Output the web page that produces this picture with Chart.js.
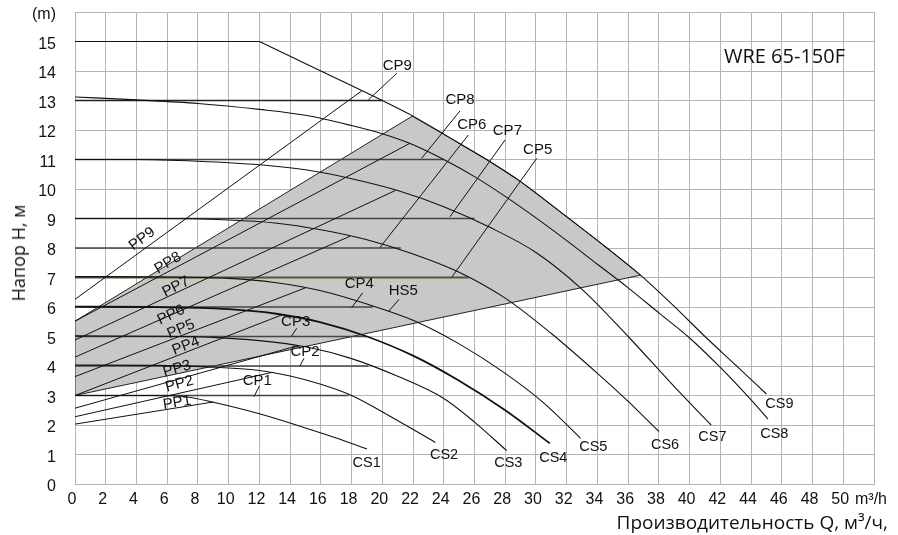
<!DOCTYPE html>
<html>
<head>
<meta charset="utf-8">
<script src="https://cdn.jsdelivr.net/npm/chart.js@4.4.1/dist/chart.umd.min.js"></script>
<style>
  html, body { margin:0; padding:0; background:#fff; }
  #wrap { position:relative; width:898px; height:535px; overflow:hidden; }
  #c { position:absolute; left:0; top:0; }
  .txt { position:absolute; white-space:nowrap; color:#111; font-family:"Open Sans", sans-serif; }
  #ytitle { left:18px; top:253px; font-size:18px; line-height:18px; transform:translate(-50%,-50%) rotate(-90deg); }
  #xtitle { right:10px; top:513px; font-size:19px; line-height:19px; }
  #model { left:724px; top:46px; font-size:20px; line-height:20px; }
</style>
</head>
<body>
<div id="wrap">
  <canvas id="c" width="898" height="535"></canvas>
  <div class="txt" id="ytitle">Напор H, м</div>
  <div class="txt" id="xtitle">Производительность Q, м³/ч,</div>
  <div class="txt" id="model">WRE 65-150F</div>
</div>
<script>
// ---------- data (Q in m³/h, H in m) ----------
const X_TICKS_MAX = 52;   // last tick shows unit
const Y_TICKS_MAX = 16;   // last tick shows unit

// constant-speed curves
const CS9_FLAT = [[0,15],[12,15]];
const CS9 = [[12,15],[16,14.0],[20,13.0],[22,12.47],[25,11.55],[27,10.93],[29,10.25],[32,9.06],[34.5,8.05],[36.8,7.08],[39,6.02],[41,5.0],[43,4.03],[45,3.05]];
const CS8 = [[0,13.12],[4,13.02],[8,12.9],[12,12.7],[15,12.5],[18,12.15],[20,11.87],[22,11.5],[24,11.0],[26,10.42],[28,9.75],[30,9.02],[32,8.25],[34,7.45],[36,6.65],[38,5.8],[40,4.95],[42,3.95],[44,2.85],[45.1,2.2]];
const CS7 = [[0,11.0],[4,11.0],[8,10.94],[12,10.82],[15,10.65],[18,10.35],[21,9.95],[24,9.4],[27,8.7],[30,7.85],[33,6.6],[36,5.0],[39,3.3],[41.4,2.0]];
const CS6 = [[0,9.0],[5,9.0],[10,8.95],[13,8.85],[16,8.62],[19,8.28],[22,7.8],[25,7.18],[28,6.3],[31,5.1],[34,3.75],[36,2.8],[38,1.78]];
const CS5 = [[0,7.03],[5,7.02],[10,6.97],[13,6.83],[16,6.55],[19,6.1],[22,5.55],[25,4.75],[28,3.75],[30.5,2.75],[32.9,1.55]];
const CS4 = [[0,6.01],[5,6.0],[10,5.93],[13,5.78],[16,5.48],[19,5.0],[22,4.35],[25,3.5],[28,2.5],[30.9,1.38]];
const CS3 = [[0,5.02],[5,5.01],[9,4.97],[12,4.86],[15,4.65],[18,4.25],[21,3.65],[24,2.9],[26,2.1],[28.1,1.13]];
const CS2 = [[0,4.03],[5,4.02],[8.6,3.97],[12,3.85],[14,3.66],[16,3.38],[18,3.0],[20.5,2.3],[23.45,1.41]];
const CS1 = [[0,3.0],[5,3.0],[7.3,2.95],[9,2.77],[12,2.38],[15,1.9],[17,1.56],[19,1.19]];

// constant-pressure lines
const CP1 = [[0,3],[17.8,3]];
const CP2 = [[0,4],[19.1,4]];
const CP3 = [[0,5],[19.0,5]];
const CP4 = [[0,6],[19.4,6]];
const CP5 = [[0,7],[25.6,7]];
const CP6 = [[0,8],[21.2,8]];
const CP7 = [[0,9],[26.0,9]];
const CP8 = [[0,11],[24.0,11]];
const CP9 = [[0,13],[20.0,13]];

// proportional-pressure lines
const PP1 = [[0,2.03],[9.0,2.78]];
const PP2 = [[0,2.28],[12.8,3.78]];
const PP3 = [[0,2.57],[14.3,4.66]];
const PP4 = [[0,3.0],[13.5,5.74]];
const PP5 = [[0,3.64],[15.0,6.65]];
const PP6 = [[0,4.3],[17.9,8.4]];
const PP7 = [[0,4.88],[20.85,9.95]];
const PP8 = [[0,5.52],[21.8,11.55]];
const PP9 = [[0,6.26],[18.67,13.33]];

// shaded working area
const AREA = [[0,3.0],[0,5.52],[21.95,12.47],[25,11.55],[27,10.93],[29,10.25],[32,9.06],[34.5,8.05],[36.8,7.08],[0,3.0]];

// label leader lines
const LEAD_CP9 = [[19.09,13.02],[20.94,13.92]];
const LEAD_CP8 = [[22.56,11.04],[25.06,12.65]];
const LEAD_CP6 = [[19.85,8.02],[25.6,11.83]];
const LEAD_CP7 = [[24.4,9.06],[27.99,11.66]];
const LEAD_CP5 = [[24.52,7.01],[30.05,11.04]];
const LEAD_CP4 = [[18.01,5.98],[18.72,6.48]];
const LEAD_HS5 = [[20.39,5.84],[21.09,6.26]];
const LEAD_CP3 = [[14.1,5.02],[14.43,5.28]];
const LEAD_CP2 = [[14.64,4.0],[14.9,4.26]];
const LEAD_CP1 = [[11.65,2.96],[12.0,3.32]];

// label anchors: [text, Q, H, rotation°]
const CP_LABELS = [["CP9",20.98,14.18,0],["CP8",25.06,13.02,0],["CP6",25.82,12.17,0],["CP7",28.14,11.98,0],["CP5",30.11,11.32,0],
  ["CP4",18.5,6.78,0],["HS5",21.37,6.55,0],["CP3",14.36,5.5,0],["CP2",14.97,4.48,0],["CP1",11.86,3.5,0]];
const CS_LABELS = [["CS1",18.98,0.72,0],["CS2",24.02,0.98,0],["CS3",28.2,0.7,0],["CS4",31.13,0.87,0],["CS5",33.73,1.24,0],
  ["CS6",38.4,1.32,0],["CS7",41.48,1.58,0],["CS8",45.51,1.69,0],["CS9",45.84,2.7,0]];
const PP_LABELS = [["PP9",4.36,8.31,-37],["PP8",6.05,7.49,-31],["PP7",6.57,6.68,-27],["PP6",6.25,5.73,-25],["PP5",6.9,5.25,-23],
  ["PP4",7.22,4.68,-21],["PP3",6.64,3.9,-16],["PP2",6.8,3.39,-15],["PP1",6.64,2.75,-9]];

// ---------- chart ----------
const toXY = pts => pts.map(([x,y]) => ({x, y}));
function ds(pts, color, width, smooth, order) {
  return {
    data: toXY(pts), showLine: true, fill: false,
    borderColor: color, borderWidth: width,
    pointRadius: 0, pointHoverRadius: 0,
    tension: smooth ? 0.4 : 0,
    cubicInterpolationMode: smooth ? 'monotone' : 'default',
    order: order || 0
  };
}

const BLACK = '#111111';
const CPC = '#444444';
const datasets = [];
datasets.push({
  data: toXY(AREA), showLine: true, fill: 'shape',
  backgroundColor: '#c8c8c8', borderColor: '#222222', borderWidth: 1,
  pointRadius: 0, tension: 0, order: 10
});
[CP1, CP2, CP3, CP4, CP6, CP7, CP8].forEach(p => datasets.push(ds(p, CPC, 1.6, false, 2)));
datasets.push(ds(CP9, '#222222', 1.4, false, 2));
datasets.push(ds(CP5, '#5a5432', 1.8, false, 2));
[PP1, PP2, PP3, PP4, PP5, PP6, PP7, PP8, PP9].forEach(p => datasets.push(ds(p, BLACK, 1, false, 1)));
[CS1, CS2, CS3, CS5, CS6, CS7, CS8, CS9].forEach(p => datasets.push(ds(p, BLACK, 1.1, true, 0)));
datasets.push(ds(CS4, BLACK, 1.8, true, 0));
datasets.push(ds(CS9_FLAT, BLACK, 1.2, false, 0));
[LEAD_CP9, LEAD_CP8, LEAD_CP6, LEAD_CP7, LEAD_CP5, LEAD_CP4, LEAD_HS5, LEAD_CP3, LEAD_CP2, LEAD_CP1]
  .forEach(p => datasets.push(ds(p, BLACK, 1, false, 0)));

const labelPlugin = {
  id: 'curveLabels',
  afterDatasetsDraw(chart) {
    const {ctx, scales: {x, y}} = chart;
    ctx.save();
    ctx.fillStyle = '#111';
    ctx.textAlign = 'center';
    ctx.textBaseline = 'middle';
    const draw = (list, size) => {
      ctx.font = size + 'px "Liberation Sans", Arial, sans-serif';
      for (const [t, q, h, r] of list) {
        ctx.save();
        ctx.translate(x.getPixelForValue(q), y.getPixelForValue(h));
        ctx.rotate(r * Math.PI / 180);
        ctx.fillText(t, 0, 0);
        ctx.restore();
      }
    };
    draw(CP_LABELS, 15);
    draw(CS_LABELS, 14.5);
    draw(PP_LABELS, 15);
    ctx.restore();
  }
};

const GRID = '#b4b4b4';
const tickFont = {family: '"Liberation Sans", Arial, sans-serif', size: 16};

new Chart(document.getElementById('c'), {
  type: 'scatter',
  data: {datasets},
  options: {
    responsive: false, animation: false, events: [],
    layout: {padding: {top: 12, right: 24, left: 0, bottom: 0}},
    plugins: {legend: {display: false}, tooltip: {enabled: false}},
    scales: {
      x: {
        type: 'linear', min: 0, max: X_TICKS_MAX,
        grid: {color: GRID, lineWidth: 1, drawTicks: false},
        border: {color: GRID, width: 1},
        ticks: {stepSize: 2, autoSkip: false, maxRotation: 0, padding: 6, labelOffset: -3,
          color: '#111', font: tickFont,
          callback: v => v === X_TICKS_MAX ? 'm³/h' : String(v)},
        afterFit: s => { s.height = 51; s.paddingLeft = 0; s.paddingRight = 0; }
      },
      y: {
        type: 'linear', min: 0, max: Y_TICKS_MAX,
        grid: {color: GRID, lineWidth: 1, drawTicks: false},
        border: {color: GRID, width: 1},
        ticks: {stepSize: 1, autoSkip: false, padding: 19, labelOffset: 3,
          color: '#111', font: tickFont,
          callback: v => v === Y_TICKS_MAX ? '(m)' : String(v)},
        afterFit: s => { s.width = 75; s.paddingTop = 0; s.paddingBottom = 0; }
      }
    }
  },
  plugins: [labelPlugin]
});
</script>
</body>
</html>
